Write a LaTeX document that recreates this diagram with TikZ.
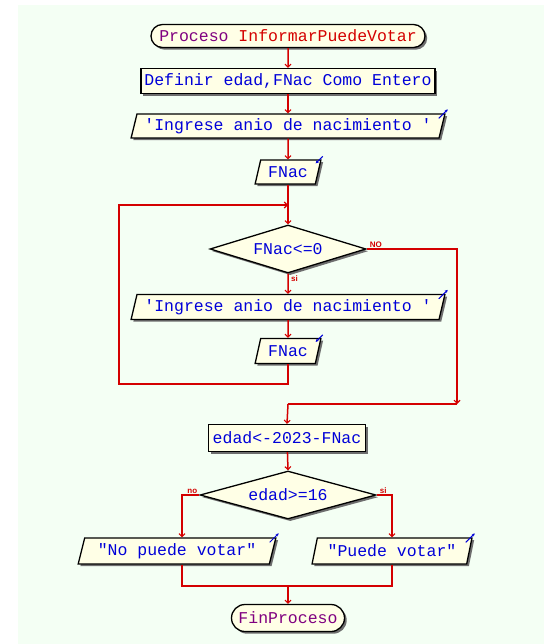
\documentclass[tikz,border=0pt]{standalone}
\usepackage{fontspec}
\usetikzlibrary{shapes.geometric,shapes.misc,shadows,arrows.meta}
\newfontfamily\psfont{Liberation Mono}
\newfontfamily\lblfont{Liberation Sans}
\definecolor{panel}{HTML}{F4FFF4}
\definecolor{boxfill}{HTML}{FFFFE6}
\definecolor{flowred}{HTML}{D40000}
\definecolor{txtblue}{HTML}{0000D8}
\definecolor{kwpurple}{HTML}{800080}
\definecolor{shade}{HTML}{6E6E6E}
\tikzset{
  base/.style={draw=black, line width=1.3pt, fill=boxfill, inner sep=1pt,
    font=\psfont\fontsize{16.5}{18}\selectfont, text=txtblue,
    drop shadow={shadow xshift=2.2pt, shadow yshift=-2.2pt, fill=shade, opacity=1}},
  termbox/.style={base, rounded rectangle},
  procbox/.style={base, rectangle},
  iobox/.style={base, trapezium, trapezium left angle=72, trapezium right angle=108,
    trapezium stretches=true},
  decbox/.style={base, diamond, inner sep=0pt},
  flow/.style={draw=flowred, line width=1.5pt,
    -{Straight Barb[length=3pt,width=6pt,line width=1.1pt]}},
  wire/.style={draw=flowred, line width=1.5pt},
  branchlbl/.style={text=flowred, font=\lblfont\bfseries\fontsize{8}{8}\selectfont, inner sep=0pt},
  ioarrow/.style={draw=txtblue, line width=1pt, -{Stealth[length=3pt,width=3pt]}}
}
\begin{document}
\begin{tikzpicture}[x=1pt,y=-1pt]
% page and drawing panel
\useasboundingbox (0,0) rectangle (544,644);
\fill[white] (0,0) rectangle (544,644);
\fill[panel] (18,5) rectangle (544,644);

% nodes of the chart
\node[termbox, minimum width=276pt, minimum height=23pt] (p0) at (288,36)
  {\textcolor{kwpurple}{Proceso} \textcolor{flowred}{InformarPuedeVotar}};
\node[procbox, minimum width=294pt, minimum height=25pt] (def) at (288,81)
  {Definir edad,FNac Como Entero};
\node[iobox, minimum width=314pt, minimum height=24pt] (in1) at (288,126)
  {\textquotesingle Ingrese anio de nacimiento \textquotesingle};
\node[iobox, minimum width=66pt, minimum height=24pt] (rd1) at (288,172) {FNac};
\node[decbox, aspect=3.25, minimum width=156pt, minimum height=48pt] (dia1) at (288,249) {FNac<=0};
\node[iobox, minimum width=314pt, minimum height=25pt] (in2) at (288,307)
  {\textquotesingle Ingrese anio de nacimiento \textquotesingle};
\node[iobox, minimum width=66pt, minimum height=25pt] (rd2) at (288,351) {FNac};
\node[procbox, minimum width=157pt, minimum height=27pt] (asg) at (287,438) {edad<-2023-FNac};
\node[decbox, aspect=3.65, minimum width=176pt, minimum height=48pt] (dia2) at (288,495) {edad>=16};
\node[iobox, minimum width=198pt, minimum height=26pt] (out1) at (177,551)
  {\textquotedbl No puede votar\textquotedbl};
\node[iobox, minimum width=160pt, minimum height=26pt] (out2) at (392,551)
  {\textquotedbl Puede votar\textquotedbl};
\node[termbox, minimum width=115pt, minimum height=27pt] (fin) at (288,618)
  {\textcolor{kwpurple}{FinProceso}};

% small in/out markers on the I/O boxes
\draw[ioarrow] ([shift={(-7pt,-5pt)}]in1.top right corner) -- ++(9pt,9pt);
\draw[ioarrow] ([shift={(-7pt,-5pt)}]in2.top right corner) -- ++(9pt,9pt);
\draw[ioarrow] ([shift={(-7pt,-5pt)}]out1.top right corner) -- ++(9pt,9pt);
\draw[ioarrow] ([shift={(-7pt,-5pt)}]out2.top right corner) -- ++(9pt,9pt);
\draw[ioarrow] ([shift={(1pt,3pt)}]rd1.top right corner) -- ++(-7pt,-7pt);
\draw[ioarrow] ([shift={(1pt,3pt)}]rd2.top right corner) -- ++(-7pt,-7pt);

% helper points of the connectors
\coordinate (m1) at (288,205);
\coordinate (c1) at (119,384);
\coordinate (c2) at (119,205);
\coordinate (c3) at (457,404);
\coordinate (m2) at (288,404);
\coordinate (bl) at (182,495);
\coordinate (j) at (288,586);

% connectors
\draw[flow] (p0) -- (def);
\draw[flow] (def) -- (in1);
\draw[flow] (in1) -- (rd1);
\draw[wire] (rd1) -- (m1);
\draw[flow] (m1) -- (dia1.north);
\draw[flow] (dia1.south) -- (in2);
\draw[flow] (in2) -- (rd2);
\draw[flow] (rd2.south) |- (c1) -- (c2) -- (m1);
\draw[flow] (dia1.east) -| (c3);
\draw[wire] (c3) -- (m2);
\draw[flow] (m2) -- (asg.north);
\draw[flow] (asg) -- (dia2.north);
\draw[flow] (dia2.west) -- (bl) -- (bl |- out1.north);
\draw[flow] (dia2.east) -| (out2.north);
\draw[wire] (bl |- out1.south) -- (bl |- j) -- (j);
\draw[wire] (out2.south) |- (j);
\draw[flow] (j) -- (fin.north);

% branch labels
\node[branchlbl, anchor=south west] (l1) at ([shift={(3pt,1pt)}]dia1.east) {NO};
\node[branchlbl, anchor=north west] (l2) at ([shift={(3pt,-2pt)}]dia1.south) {si};
\node[branchlbl, anchor=south east] (l3) at ([shift={(-2pt,1pt)}]dia2.west) {no};
\node[branchlbl, anchor=south west] (l4) at ([shift={(3pt,1pt)}]dia2.east) {si};
\end{tikzpicture}
\end{document}
